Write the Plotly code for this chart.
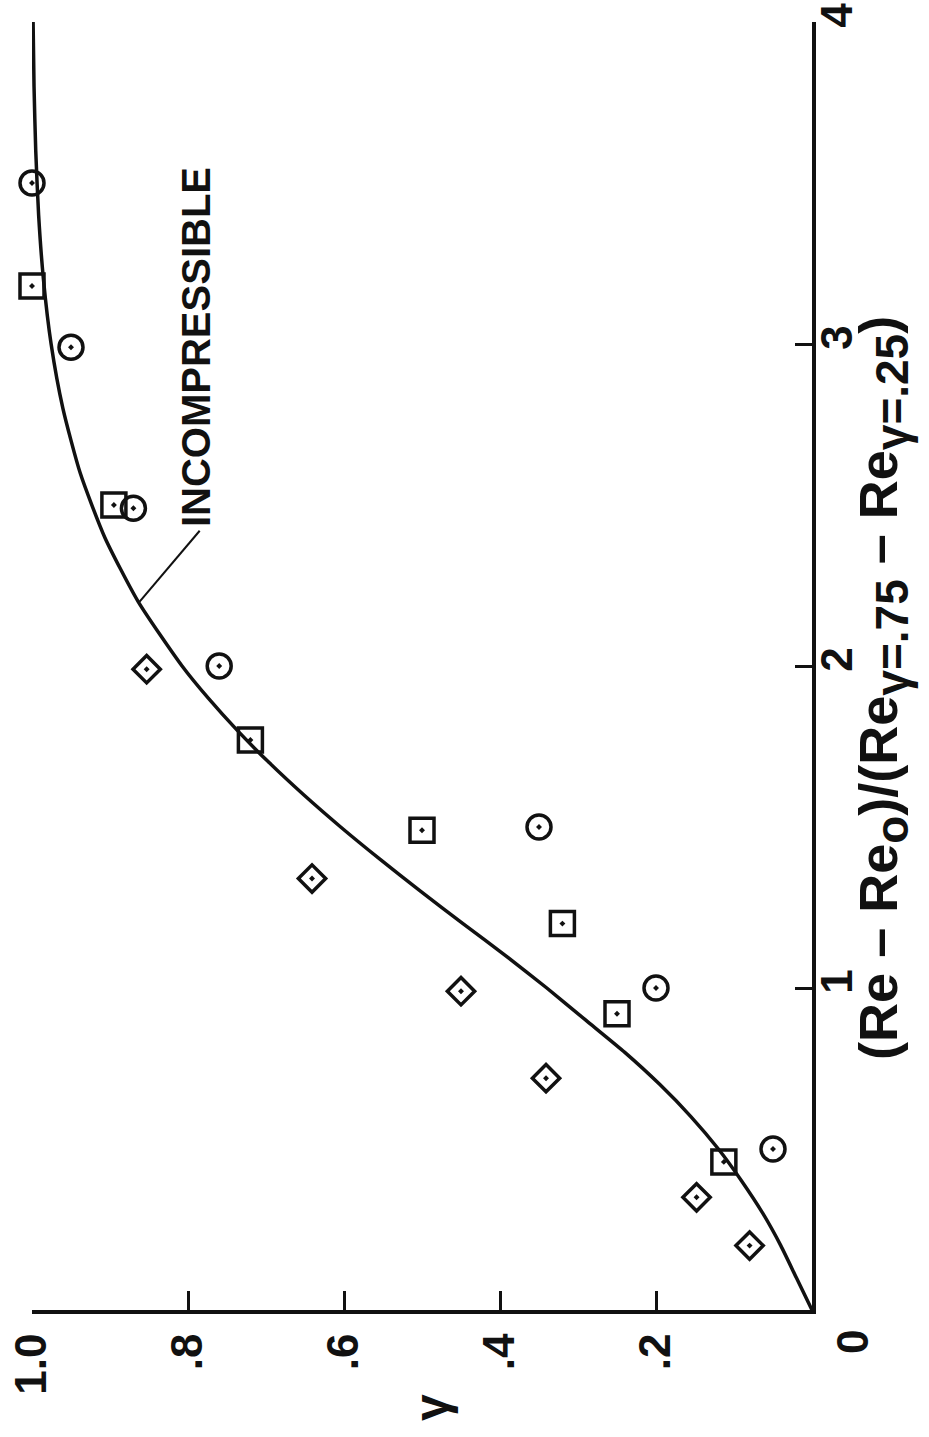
import plotly.graph_objects as go

# Universal intermittency curve (incompressible), xi = (Re - Re_o)/(Re_g=.75 - Re_g=.25)
xi_curve = [0.0, 0.1, 0.2, 0.3, 0.4, 0.5, 0.6, 0.7, 0.8, 0.9, 1.0,
            1.1, 1.2, 1.3, 1.4, 1.5, 1.6, 1.7, 1.8, 1.9, 2.0,
            2.2, 2.4, 2.6, 2.8, 3.0, 3.2, 3.4, 3.6, 3.8, 4.0]
gamma_curve = [0.0, 0.02, 0.04, 0.063, 0.09, 0.12, 0.155, 0.195, 0.24, 0.29, 0.34,
               0.3925, 0.4475, 0.5016, 0.554, 0.6043, 0.6517, 0.696, 0.7368, 0.774, 0.8076,
               0.8639, 0.9068, 0.9383, 0.9604, 0.9755, 0.9853, 0.9915, 0.9952, 0.9974, 0.9986]

# Measured intermittency, three data sets
circle_xi = [3.50, 2.99, 2.49, 2.00, 1.50, 1.00, 0.50]
circle_gamma = [1.00, 0.95, 0.87, 0.76, 0.35, 0.20, 0.05]

square_xi = [3.18, 2.50, 1.77, 1.49, 1.20, 0.92, 0.46]
square_gamma = [1.00, 0.895, 0.72, 0.50, 0.32, 0.25, 0.113]

diamond_xi = [1.99, 1.34, 0.99, 0.72, 0.35, 0.20]
diamond_gamma = [0.853, 0.641, 0.45, 0.341, 0.148, 0.08]

gamma_ticks = [1.0, 0.8, 0.6, 0.4, 0.2]
gamma_ticktext = ["1.0", ".8", ".6", ".4", ".2"]
xi_ticks = [1, 2, 3, 4]
xi_ticktext = ["1", "2", "3", "4"]

FONT = "Liberation Sans, Arial, Helvetica, sans-serif"
INK = "#111111"

fig = go.Figure()

fig.add_trace(go.Scatter(
    x=gamma_curve, y=xi_curve, mode="lines",
    line=dict(color=INK, width=3.5, shape="spline", smoothing=0.6),
    cliponaxis=False, showlegend=False, hoverinfo="skip"))

marker_line = dict(color=INK, width=3.5)
fig.add_trace(go.Scatter(
    x=circle_gamma, y=circle_xi, mode="markers",
    marker=dict(symbol="circle-open-dot", size=24, color=INK, line=marker_line),
    cliponaxis=False, showlegend=False))
fig.add_trace(go.Scatter(
    x=square_gamma, y=square_xi, mode="markers",
    marker=dict(symbol="square-open-dot", size=24, color=INK, line=marker_line),
    cliponaxis=False, showlegend=False))
fig.add_trace(go.Scatter(
    x=diamond_gamma, y=diamond_xi, mode="markers",
    marker=dict(symbol="diamond-open-dot", size=21, color=INK, line=marker_line),
    cliponaxis=False, showlegend=False))

# leader from the curve to its label
fig.add_shape(type="line", xref="x", yref="y",
              x0=0.862, y0=2.2, x1=0.785, y1=2.42,
              line=dict(color=INK, width=2))

fig.add_annotation(x=0.79, y=2.99, xref="x", yref="y",
                   xanchor="center", yanchor="middle",
                   text="INCOMPRESSIBLE", textangle=-90, showarrow=False,
                   font=dict(family=FONT, size=40, color=INK, weight="bold"))

sub = '<sub><span style="font-size:46px">{}</span></sub>'
title_text = ("(Re – Re" + sub.format("o") + ")/(Re" + sub.format("γ=.75")
              + " – Re" + sub.format("γ=.25") + ")")
fig.add_annotation(x=1.091, y=0.483, xref="paper", yref="paper",
                   xanchor="center", yanchor="middle",
                   text=title_text,
                   textangle=-90, showarrow=False,
                   font=dict(family=FONT, size=54, color=INK, weight="bold"))

fig.add_annotation(x=0.513, y=-0.076, xref="paper", yref="paper",
                   xanchor="center", yanchor="middle",
                   text="γ", textangle=-90, showarrow=False,
                   font=dict(family=FONT, size=48, color=INK, weight="bold"))

fig.add_annotation(x=1.051, y=-0.025, xref="paper", yref="paper",
                   xanchor="center", yanchor="middle",
                   text="0", textangle=-90, showarrow=False,
                   font=dict(family=FONT, size=44, color=INK, weight="bold"))

fig.update_layout(
    width=929, height=1437,
    margin=dict(l=32, r=117, t=22, b=127),
    paper_bgcolor="white", plot_bgcolor="white",
    xaxis=dict(range=[1, 0], showgrid=False, zeroline=False,
               showline=True, linewidth=4, linecolor=INK,
               ticks="inside", ticklen=19, tickwidth=3, tickcolor=INK,
               tickvals=gamma_ticks, ticktext=gamma_ticktext, tickangle=-90,
               ticklabelstandoff=2, automargin=False,
               tickfont=dict(family=FONT, size=44, color=INK, weight="bold")),
    yaxis=dict(range=[0, 4], side="right", showgrid=False, zeroline=False,
               showline=True, linewidth=4, linecolor=INK,
               ticks="inside", ticklen=17, tickwidth=3, tickcolor=INK,
               tickvals=xi_ticks, ticktext=xi_ticktext, tickangle=-90,
               ticklabelstandoff=-17, automargin=False,
               tickfont=dict(family=FONT, size=44, color=INK, weight="bold")),
)

fig.write_html("out.html")
